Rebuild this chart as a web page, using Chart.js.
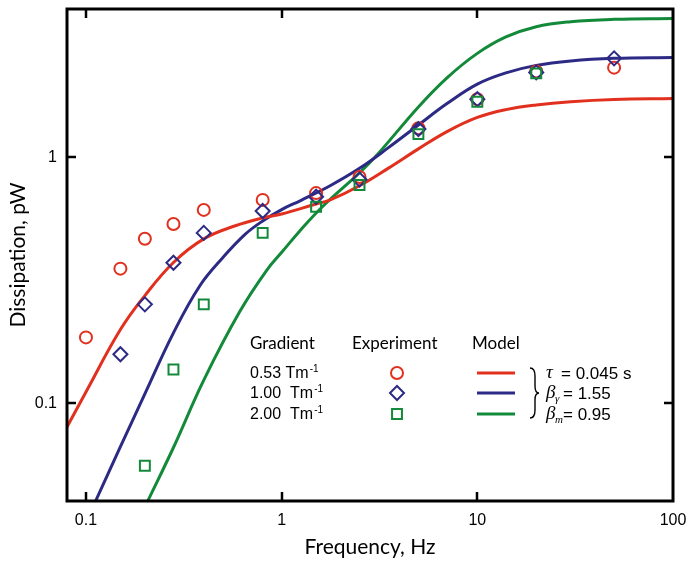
<!DOCTYPE html>
<html>
<head>
<meta charset="utf-8">
<script src="https://cdn.jsdelivr.net/npm/chart.js@4.4.1/dist/chart.umd.min.js"></script>
<style>
  html, body { margin: 0; padding: 0; background: #fff; }
</style>
</head>
<body>
<canvas id="chart" width="687" height="563"></canvas>
<script>
// Mesures (points) par gradient
const freqExp = [0.1, 0.15, 0.2, 0.28, 0.4, 0.8, 1.5, 2.5, 5, 10, 20, 50];
const exp053 = [0.185, 0.352, 0.466, 0.535, 0.61, 0.67, 0.714, 0.83, 1.31, 1.72, 2.23, 2.31];
const exp100 = [null, 0.158, 0.252, 0.372, 0.492, 0.604, 0.69, 0.81, 1.30, 1.72, 2.21, 2.52];
const exp200 = [null, null, 0.0556, 0.137, 0.252, 0.492, 0.628, 0.77, 1.24, 1.68, 2.19, null];

// Courbes du modèle
const freqModel053 = [0.08, 0.1, 0.15, 0.2, 0.28, 0.4, 0.58, 0.8, 1, 1.5, 1.76, 2.5, 3.5, 5, 7, 10, 14, 20, 30, 50, 100];
const model053 = [0.080, 0.111, 0.199, 0.2735, 0.373, 0.465, 0.526, 0.566, 0.587, 0.645, 0.668, 0.765, 0.90, 1.08, 1.27, 1.45, 1.56, 1.63, 1.68, 1.715, 1.73];
const freqModel100 = [0.112, 0.15, 0.2, 0.28, 0.382, 0.5, 0.65, 0.8, 1, 1.25, 1.76, 2.5, 3.5, 5, 7, 10, 14, 20, 30, 50, 100];
const model100 = [0.040, 0.0665, 0.109, 0.193, 0.30, 0.39, 0.485, 0.55, 0.612, 0.666, 0.763, 0.90, 1.09, 1.35, 1.65, 1.98, 2.2, 2.36, 2.46, 2.52, 2.54];
const freqModel200 = [0.207, 0.28, 0.4, 0.61, 0.835, 1.016, 1.235, 1.62, 2.81, 5, 7, 10, 14, 20, 30, 50, 100];
const model200 = [0.040, 0.066, 0.124, 0.235, 0.345, 0.416, 0.50, 0.63, 0.946, 1.6, 2.1, 2.64, 3.08, 3.39, 3.55, 3.63, 3.66];

const RED = '#e2301f';
const BLUE = '#2d2a85';
const GREEN = '#13893a';

function pairs(xs, ys) {
    return xs.map((x, i) => ({ x: x, y: ys[i] })).filter(p => p.y !== null);
}

function isDecade(v) {
    const l = Math.log10(v);
    return Math.abs(l - Math.round(l)) < 1e-6;
}

// Cadre et graduations vers l'intérieur
const framePlugin = {
    id: 'frame',
    afterDatasetsDraw(chart) {
        const { ctx, chartArea: a, scales: { x, y } } = chart;
        ctx.save();
        ctx.strokeStyle = '#000';
        ctx.lineWidth = 2.5;
        ctx.beginPath();
        x.ticks.forEach(t => {
            const px = Math.round(x.getPixelForValue(t.value));
            if (px < a.left + 3 || px > a.right - 3) return;
            const len = isDecade(t.value) ? 9 : 5;
            ctx.moveTo(px, a.bottom); ctx.lineTo(px, a.bottom - len);
            ctx.moveTo(px, a.top); ctx.lineTo(px, a.top + len);
        });
        y.ticks.forEach(t => {
            const py = Math.round(y.getPixelForValue(t.value));
            if (py < a.top + 3 || py > a.bottom - 3) return;
            const len = isDecade(t.value) ? 9 : 5;
            ctx.moveTo(a.left, py); ctx.lineTo(a.left + len, py);
            ctx.moveTo(a.right, py); ctx.lineTo(a.right - len, py);
        });
        ctx.stroke();
        ctx.lineWidth = 3;
        ctx.strokeRect(a.left, a.top, a.right - a.left, a.bottom - a.top);
        ctx.restore();
    }
};

// Légende dessinée dans le graphique
const legendPlugin = {
    id: 'customLegend',
    afterDraw(chart) {
        const ctx = chart.ctx;
        ctx.save();
        ctx.fillStyle = '#000';
        ctx.textBaseline = 'alphabetic';
        ctx.textAlign = 'left';

        ctx.font = '17px Lato';
        ctx.fillText('Gradient', 250, 349);
        ctx.fillText('Experiment', 352, 349);
        ctx.fillText('Model', 472, 349);

        const rows = [
            { label: '0.53 Tm', color: RED, style: 'circle', r: 6 },
            { label: '1.00  Tm', color: BLUE, style: 'rectRot', r: 7 },
            { label: '2.00  Tm', color: GREEN, style: 'rect', r: 7 }
        ];
        const rowY = [373, 393, 414];
        rows.forEach((row, i) => {
            const cy = rowY[i];
            ctx.fillStyle = '#000';
            ctx.font = '16px "Liberation Sans"';
            ctx.textBaseline = 'middle';
            ctx.fillText(row.label, 250, cy + 1);
            const w = ctx.measureText(row.label).width;
            ctx.font = '10px "Liberation Sans"';
            ctx.fillText('-1', 250 + w + 1, cy - 4);

            ctx.strokeStyle = row.color;
            ctx.fillStyle = 'rgba(0,0,0,0)';
            ctx.lineWidth = 2;
            Chart.helpers.drawPoint(ctx, { pointStyle: row.style, radius: row.r, rotation: 0, borderWidth: 2 }, 397, cy);

            ctx.lineWidth = 3;
            ctx.beginPath();
            ctx.moveTo(477, cy);
            ctx.lineTo(515, cy);
            ctx.stroke();
        });

        // accolade
        ctx.strokeStyle = '#000';
        ctx.lineWidth = 1.4;
        ctx.beginPath();
        ctx.moveTo(530, 368);
        ctx.quadraticCurveTo(535, 368, 535, 376);
        ctx.lineTo(535, 386);
        ctx.quadraticCurveTo(535, 393, 539, 393);
        ctx.quadraticCurveTo(535, 393, 535, 400);
        ctx.lineTo(535, 410);
        ctx.quadraticCurveTo(535, 418, 530, 418);
        ctx.stroke();

        ctx.fillStyle = '#000';
        ctx.textBaseline = 'middle';
        ctx.font = 'italic 19px "Liberation Serif"';
        ctx.fillText('\u03C4', 546, 373);
        ctx.fillText('\u03B2', 546, 393);
        ctx.fillText('\u03B2', 546, 414);
        ctx.font = 'italic 11px "Liberation Serif"';
        ctx.fillText('\u03B3', 555, 399);
        ctx.fillText('m', 555, 420);
        ctx.font = '17px "Liberation Sans"';
        ctx.fillText('= 0.045 s', 561, 374);
        ctx.fillText('= 1.55', 563, 394);
        ctx.fillText('= 0.95', 563, 415);
        ctx.restore();
    }
};

const tickFont = { family: '"Liberation Sans", Arial, sans-serif', size: 16 };
const titleFont = { family: 'Lato, "Open Sans", sans-serif', size: 21 };

function decadeLabel(value) {
    return isDecade(value) ? String(+value.toPrecision(3)) : null;
}

// la zone du graphique est fixée par le padding du layout
function noScalePadding(scale) {
    scale.paddingTop = 0;
    scale.paddingBottom = 0;
    scale.paddingLeft = 0;
    scale.paddingRight = 0;
}

new Chart(document.getElementById('chart'), {
    type: 'line',
    data: {
        datasets: [
            {
                label: '2.00 Tm-1 experiment', data: pairs(freqExp, exp200), showLine: false,
                pointStyle: 'rect', pointRadius: 7, pointBorderWidth: 2,
                pointBorderColor: GREEN, pointBackgroundColor: 'rgba(0,0,0,0)'
            },
            {
                label: '1.00 Tm-1 experiment', data: pairs(freqExp, exp100), showLine: false,
                pointStyle: 'rectRot', pointRadius: 7, pointBorderWidth: 2,
                pointBorderColor: BLUE, pointBackgroundColor: 'rgba(0,0,0,0)'
            },
            {
                label: '0.53 Tm-1 experiment', data: pairs(freqExp, exp053), showLine: false,
                pointStyle: 'circle', pointRadius: 6, pointBorderWidth: 2,
                pointBorderColor: RED, pointBackgroundColor: 'rgba(0,0,0,0)'
            },
            {
                label: '0.53 Tm-1 model', data: pairs(freqModel053, model053),
                borderColor: RED, borderWidth: 3, pointRadius: 0, tension: 0.4
            },
            {
                label: '1.00 Tm-1 model', data: pairs(freqModel100, model100),
                borderColor: BLUE, borderWidth: 3, pointRadius: 0, tension: 0.4
            },
            {
                label: '2.00 Tm-1 model', data: pairs(freqModel200, model200),
                borderColor: GREEN, borderWidth: 3, pointRadius: 0, tension: 0.4
            }
        ]
    },
    options: {
        responsive: false,
        animation: false,
        devicePixelRatio: 1,
        layout: { padding: { left: 0, right: 14, top: 7, bottom: 0 } },
        plugins: {
            legend: { display: false },
            tooltip: { enabled: false }
        },
        scales: {
            x: {
                type: 'logarithmic',
                min: 0.08,
                max: 100,
                grid: { display: false, drawTicks: false },
                border: { display: false },
                ticks: {
                    autoSkip: false, maxRotation: 0, padding: 10,
                    color: '#000', font: tickFont, callback: decadeLabel
                },
                title: {
                    display: true, text: 'Frequency, Hz', color: '#000',
                    font: titleFont, padding: { top: 0, bottom: 3 }
                },
                afterFit(scale) { scale.height = 62; noScalePadding(scale); }
            },
            y: {
                type: 'logarithmic',
                min: 0.04,
                max: 4,
                grid: { display: false, drawTicks: false },
                border: { display: false },
                ticks: {
                    autoSkip: false, padding: 10,
                    color: '#000', font: tickFont, callback: decadeLabel
                },
                title: {
                    display: true, text: 'Dissipation, pW', color: '#000',
                    font: titleFont, padding: { top: 6, bottom: 0 }
                },
                afterFit(scale) { scale.width = 67; noScalePadding(scale); }
            }
        }
    },
    plugins: [framePlugin, legendPlugin]
});
</script>
</body>
</html>
